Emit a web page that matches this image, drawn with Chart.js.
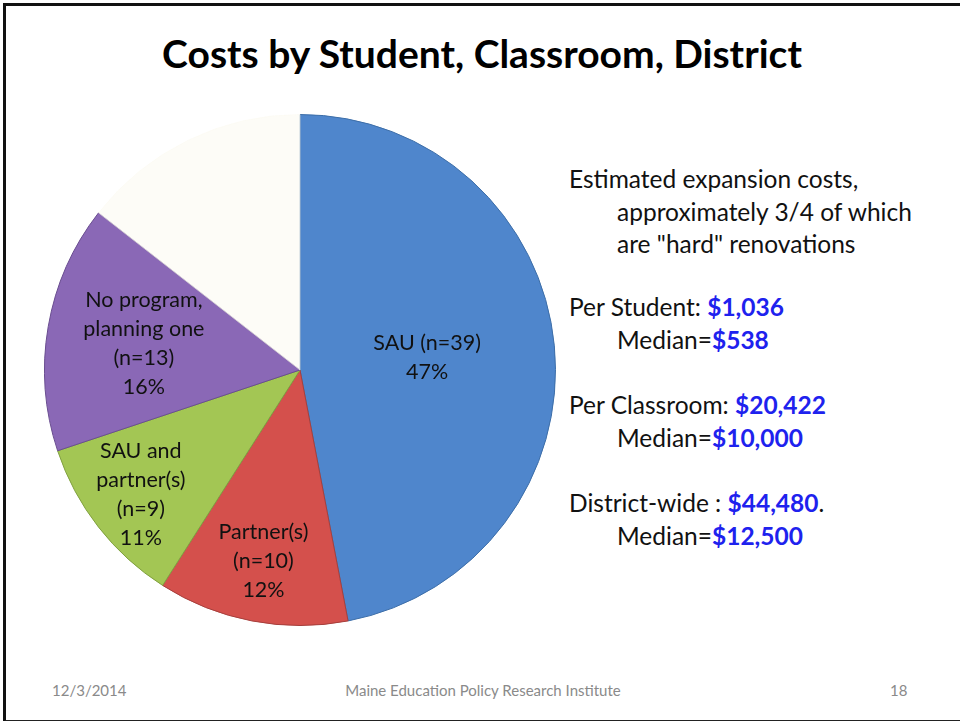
<!DOCTYPE html>
<html>
<head>
<meta charset="utf-8">
<script src="https://cdn.jsdelivr.net/npm/chart.js@4/dist/chart.umd.min.js"></script>
<style>
    html, body { margin: 0; padding: 0; background: #fff; }
    body { width: 960px; height: 721px; position: relative; overflow: hidden; font-family: Lato, "Open Sans", sans-serif; }
    .frame { position: absolute; left: 3px; top: 3px; width: 960px; height: 714px; border-top: 3px solid #111; border-left: 3px solid #111; border-bottom: 3px solid #222; }
    .title { position: absolute; left: 0; width: 964px; top: 30px; text-align: center; font-size: 39px; font-weight: bold; color: #000; }
    .chart-box { position: absolute; left: 44px; top: 114px; width: 512px; height: 512px; }
    .side { position: absolute; left: 569px; font-size: 24.5px; color: #111; line-height: 32.5px; }
    .side .in { padding-left: 48px; }
    .side b { color: #1e22ee; }
    .foot { position: absolute; top: 681px; font-size: 15px; color: #8a8a8a; }
</style>
</head>
<body>
<div class="frame"></div>
<div class="title">Costs by Student, Classroom, District</div>
<div class="chart-box"><canvas id="pieChart"></canvas></div>

<div class="side" style="top: 163px;">
    <div>Estimated expansion costs,</div>
    <div class="in">approximately 3/4 of which</div>
    <div class="in">are "hard" renovations</div>
</div>
<div class="side" style="top: 291px;">
    <div>Per Student: <b>$1,036</b></div>
    <div class="in">Median=<b>$538</b></div>
</div>
<div class="side" style="top: 389px;">
    <div>Per Classroom: <b>$20,422</b></div>
    <div class="in">Median=<b>$10,000</b></div>
</div>
<div class="side" style="top: 487px;">
    <div>District-wide : <b>$44,480</b>.</div>
    <div class="in">Median=<b>$12,500</b></div>
</div>

<div class="foot" style="left: 52px;">12/3/2014</div>
<div class="foot" style="left: 0; width: 966px; text-align: center;">Maine Education Policy Research Institute</div>
<div class="foot" style="left: 890px;">18</div>

<script>
// slice data (counts and shown percentages)
const categories = [
    ['SAU (n=39)'],
    ['Partner(s)', '(n=10)'],
    ['SAU and', 'partner(s)', '(n=9)'],
    ['No program,', 'planning one', '(n=13)'],
    ['']
];
const counts = [39, 10, 9, 13, 12];
const percents = ['47%', '12%', '11%', '16%', ''];

const sliceColors = ['#4f86cc', '#d4504c', '#a3c654', '#8a68b6', 'rgba(252, 250, 242, 0.6)'];
const sliceBorders = ['#3d6ea8', '#a63f3c', '#80a040', '#6a4e90', 'rgba(252, 250, 242, 0.6)'];
const labelRadius = [0.5, 0.76, 0.79, 0.62, 0];

// draws the text inside each slice
const sliceLabels = {
    id: 'sliceLabels',
    afterDatasetsDraw(chart) {
        const ctx = chart.ctx;
        const meta = chart.getDatasetMeta(0);
        ctx.save();
        ctx.font = '21.5px Lato, "Open Sans", sans-serif';
        ctx.fillStyle = '#111';
        ctx.textAlign = 'center';
        ctx.textBaseline = 'middle';
        meta.data.forEach(function(arc, i) {
            if (!labelRadius[i]) return;
            const p = arc.getProps(['x', 'y', 'startAngle', 'endAngle', 'outerRadius']);
            const mid = (p.startAngle + p.endAngle) / 2;
            const r = p.outerRadius * labelRadius[i];
            const cx = p.x + Math.cos(mid) * r;
            const cy = p.y + Math.sin(mid) * r;
            const lines = categories[i].concat([percents[i]]);
            const lh = 29;
            const top = cy - (lines.length - 1) * lh / 2;
            lines.forEach(function(t, j) {
                ctx.fillText(t, cx, top + j * lh);
            });
        });
        ctx.restore();
    }
};

document.addEventListener('DOMContentLoaded', function() {
    const pieCtx = document.getElementById('pieChart');
    new Chart(pieCtx, {
        type: 'pie',
        data: {
            labels: categories.map(c => c.join(' ')),
            datasets: [{
                data: counts,
                backgroundColor: sliceColors,
                borderColor: sliceBorders,
                borderWidth: 1
            }]
        },
        options: {
            responsive: true,
            maintainAspectRatio: false,
            animation: false,
            events: [],
            plugins: {
                legend: { display: false },
                tooltip: { enabled: false }
            }
        },
        plugins: [sliceLabels]
    });
});
</script>
</body>
</html>
